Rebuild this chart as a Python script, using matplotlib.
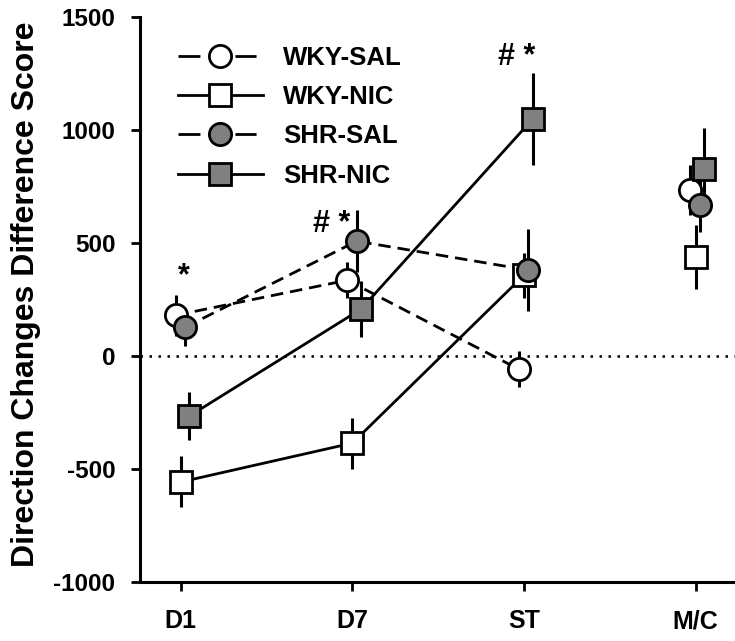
import matplotlib
matplotlib.use("Agg")
import matplotlib.pyplot as plt
import numpy as np

# groups / time points
phases = ["D1", "D7", "ST", "M/C"]
groups = ["WKY-SAL", "WKY-NIC", "SHR-SAL", "SHR-NIC"]

# mean difference scores (D1, D7, ST, M/C)
wky_sal = [181, 336, -58, 735]
wky_nic = [-557, -385, 358, 438]
shr_sal = [128, 509, 381, 668]
shr_nic = [-265, 208, 1049, 827]

# SEM
wky_sal_err = [90, 80, 80, 110]
wky_nic_err = [113, 113, 100, 142]
shr_sal_err = [85, 137, 181, 120]
shr_nic_err = [106, 124, 204, 181]

# significance marks
sig_labels = ["*", "# *", "# *"]
sig_x = [1.02, 1.88, 2.96]
sig_y = [352, 585, 1325]

plt.rcParams['font.family'] = ['Liberation Sans', 'DejaVu Sans']
plt.rcParams['font.weight'] = 'bold'
plt.rcParams['axes.unicode_minus'] = False

fig = plt.figure(figsize=(7.35, 6.41), dpi=100)
ax = fig.add_axes([0.19, 0.092, 0.81, 0.881])

x = np.arange(1, len(phases) + 1)
grey = "#808080"
dash = (0, (4.5, 2.5))
leg_dash = (0, (7.9, 12.6, 7.6, 12))
styles = [
    (wky_sal, wky_sal_err, "o", "white", dash, leg_dash, -0.03),
    (wky_nic, wky_nic_err, "s", "white", "-", "-", 0.0),
    (shr_sal, shr_sal_err, "o", grey, dash, leg_dash, 0.025),
    (shr_nic, shr_nic_err, "s", grey, "-", "-", 0.05),
]

ax.axhline(0, color="black", lw=1.8, ls=(0, (1, 2.6)), zorder=1)

for name, (vals, errs, mk, fc, ls, lls, off) in zip(groups, styles):
    xs = x + off
    # connected time course D1 -> ST
    ax.plot(xs[:3], vals[:3], color="black", lw=2, ls=ls, zorder=2)
    ax.errorbar(xs, vals, yerr=errs, fmt="none", ecolor="black",
                elinewidth=2.2, capsize=0, zorder=3)
    ax.plot(xs, vals, ls="none", marker=mk, ms=16, mfc=fc, mec="black",
            mew=2, zorder=4)
    # legend proxy
    ax.plot([], [], color="black", lw=2, ls=lls, marker=mk, ms=16,
            mfc=fc, mec="black", mew=2, label=name)

for lab, sx, sy in zip(sig_labels, sig_x, sig_y):
    ax.text(sx, sy, lab, ha="center", va="center", fontsize=22,
            fontweight="bold")

ax.set_xlim(0.76, 4.23)
ax.set_ylim(-1000, 1500)
ax.set_xticks(x)
ax.set_xticklabels(phases)
ax.set_yticks([-1000, -500, 0, 500, 1000, 1500])
ax.set_ylabel("Direction Changes Difference Score", fontsize=23,
              fontweight="bold")
ax.yaxis.set_label_coords(-0.165, 0.51)

for side in ["top", "right"]:
    ax.spines[side].set_visible(False)
for side in ["left", "bottom"]:
    ax.spines[side].set_linewidth(2.2)
ax.tick_params(axis="both", direction="out", length=6.5, width=2,
               labelsize=17.5)
ax.tick_params(axis="y", pad=11)
ax.tick_params(axis="x", pad=13, labelsize=18)

ax.legend(loc="upper left", bbox_to_anchor=(0.047, 0.968), frameon=False,
          fontsize=18.5, handlelength=3.3, labelspacing=0.6,
          handletextpad=0.8, borderaxespad=0)

fig.savefig("out.png", dpi=100)
